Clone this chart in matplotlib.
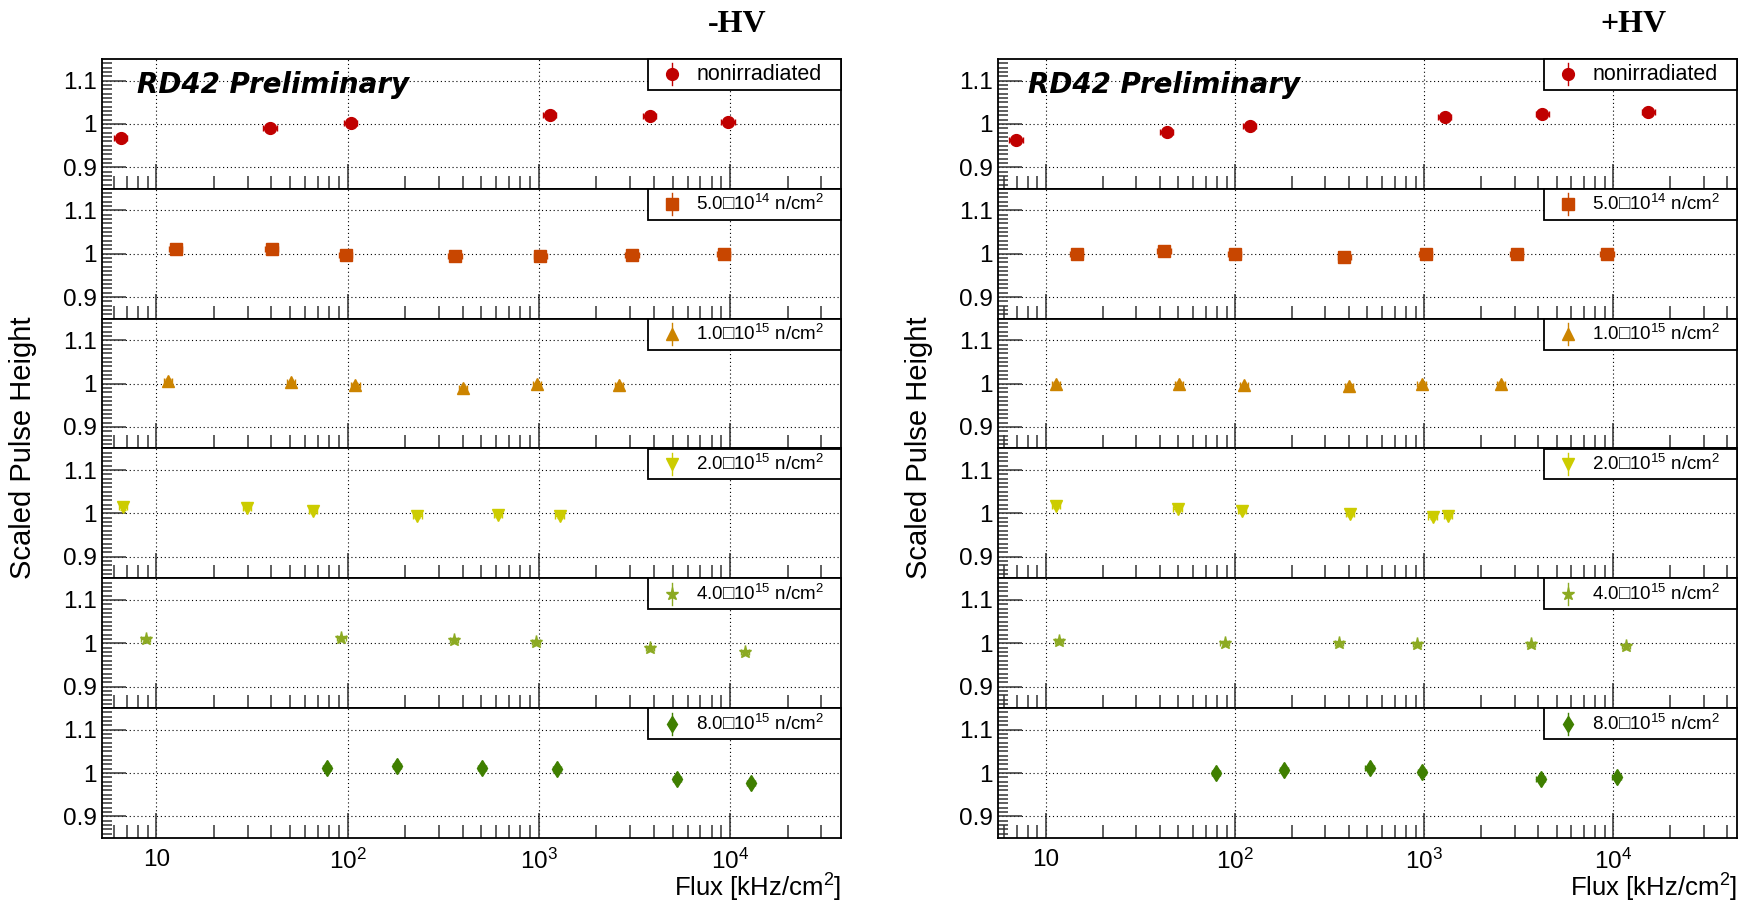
import numpy as np
import matplotlib
matplotlib.use('Agg')
import matplotlib.pyplot as plt
from matplotlib.patches import Rectangle
from matplotlib.ticker import FixedLocator, FixedFormatter

plt.rcParams['font.family'] = ['Liberation Sans', 'DejaVu Sans']
plt.rcParams['mathtext.fontset'] = 'custom'
plt.rcParams['mathtext.rm'] = 'Liberation Sans'
plt.rcParams['mathtext.it'] = 'Liberation Sans:italic'
plt.rcParams['mathtext.bf'] = 'Liberation Sans:bold'

# ---------------- data ----------------
series_labels = ['nonirradiated',
                 '5.0\u25a110$^{14}$ n/cm$^{2}$',
                 '1.0\u25a110$^{15}$ n/cm$^{2}$',
                 '2.0\u25a110$^{15}$ n/cm$^{2}$',
                 '4.0\u25a110$^{15}$ n/cm$^{2}$',
                 '8.0\u25a110$^{15}$ n/cm$^{2}$']
side_titles = ['-HV', '+HV']
xtick_values = [10, 100, 1000, 10000]
xtick_labels = ['10', '$10^{2}$', '$10^{3}$', '$10^{4}$']
ytick_values = [0.9, 1.0, 1.1]
ytick_labels = ['0.9', '1', '1.1']

# -HV
neg_flux_nonirr = [6.5, 39.5, 104, 1143, 3810, 9770]
neg_ph_nonirr = [0.968, 0.990, 1.002, 1.021, 1.018, 1.005]
neg_flux_5e14 = [12.6, 40.3, 98, 366, 1020, 3075, 9290]
neg_ph_5e14 = [1.010, 1.010, 0.998, 0.994, 0.995, 0.996, 1.000]
neg_flux_1e15 = [11.5, 50.6, 110, 403, 980, 2620]
neg_ph_1e15 = [1.006, 1.003, 0.997, 0.990, 0.998, 0.997]
neg_flux_2e15 = [6.7, 29.9, 66, 232, 611, 1283]
neg_ph_2e15 = [1.014, 1.013, 1.006, 0.995, 0.997, 0.995]
neg_flux_4e15 = [8.8, 92.9, 362, 966, 3820, 12000]
neg_ph_4e15 = [1.010, 1.011, 1.008, 1.004, 0.990, 0.979]
neg_flux_8e15 = [78, 181, 507, 1248, 5280, 12900]
neg_ph_8e15 = [1.011, 1.016, 1.011, 1.010, 0.987, 0.977]

# +HV
pos_flux_nonirr = [6.95, 43.6, 120, 1288, 4210, 15300]
pos_ph_nonirr = [0.962, 0.982, 0.996, 1.016, 1.022, 1.027]
pos_flux_5e14 = [14.6, 42.2, 99.5, 378, 1021, 3076, 9270]
pos_ph_5e14 = [1.000, 1.006, 0.999, 0.993, 1.000, 1.000, 1.000]
pos_flux_1e15 = [11.3, 50.5, 111, 399, 967, 2540]
pos_ph_1e15 = [1.000, 0.999, 0.996, 0.995, 0.999, 0.999]
pos_flux_2e15 = [11.3, 49.6, 109, 404, 1107, 1340]
pos_ph_2e15 = [1.018, 1.010, 1.005, 0.998, 0.991, 0.995]
pos_flux_4e15 = [11.7, 88, 353, 914, 3665, 11670]
pos_ph_4e15 = [1.006, 1.001, 1.000, 0.998, 0.998, 0.993]
pos_flux_8e15 = [79, 182, 514, 974, 4120, 10400]
pos_ph_8e15 = [1.001, 1.006, 1.011, 1.003, 0.986, 0.991]

# uncertainties (pulse height absolute, flux relative)
ph_err = [0.008, 0.004, 0.004, 0.005, 0.004, 0.005]
flux_rel_err = [0.08, 0.08, 0.05, 0.05, 0.05, 0.05]

neg_data = [(neg_flux_nonirr, neg_ph_nonirr), (neg_flux_5e14, neg_ph_5e14),
            (neg_flux_1e15, neg_ph_1e15), (neg_flux_2e15, neg_ph_2e15),
            (neg_flux_4e15, neg_ph_4e15), (neg_flux_8e15, neg_ph_8e15)]
pos_data = [(pos_flux_nonirr, pos_ph_nonirr), (pos_flux_5e14, pos_ph_5e14),
            (pos_flux_1e15, pos_ph_1e15), (pos_flux_2e15, pos_ph_2e15),
            (pos_flux_4e15, pos_ph_4e15), (pos_flux_8e15, pos_ph_8e15)]

# ---------------- style ----------------
colors = ['#C00000', '#C84600', '#CC8400', '#CCCC00', '#8CAA22', '#3F7F00']
markers = ['o', 's', '^', 'v', '*', 'd']
msizes = [8.5, 8.5, 8.5, 9, 9.5, 8]
legend_fs = [15.5, 13.5, 13.5, 13.5, 13.5, 13.5]

W, H = 1752, 905
fig = plt.figure(figsize=(W / 100, H / 100), dpi=100)
fig.patch.set_facecolor('white')

x_extents = [(102, 841), (998, 1737)]
xlims = [(5.2, 3.8e4), (5.57, 4.5e4)]
top_px, bot_px = 59, 838
nrow = 6
row_h = (bot_px - top_px) / nrow
rd42_x = [0.047, 0.041]

minor_y = [v for v in np.round(np.arange(0.86, 1.145, 0.01), 3)
           if min(abs(v - m) for m in ytick_values) > 1e-6]
minor_x = [m * 10 ** e for e in range(0, 5) for m in range(2, 10)]

for side, data in enumerate([neg_data, pos_data]):
    x0, x1 = x_extents[side]
    for i in range(nrow):
        y_top = top_px + i * row_h
        ax = fig.add_axes([x0 / W, 1 - (y_top + row_h) / H, (x1 - x0) / W, row_h / H])
        ax.set_xscale('log')
        ax.set_xlim(*xlims[side])
        ax.set_ylim(0.85, 1.15)
        for sp in ax.spines.values():
            sp.set_linewidth(1.3)
            sp.set_color('black')
        ax.xaxis.set_major_locator(FixedLocator(xtick_values))
        ax.xaxis.set_major_formatter(FixedFormatter(xtick_labels))
        ax.xaxis.set_minor_locator(FixedLocator(minor_x))
        ax.yaxis.set_major_locator(FixedLocator(ytick_values))
        ax.yaxis.set_major_formatter(FixedFormatter(ytick_labels))
        ax.yaxis.set_minor_locator(FixedLocator(minor_y))
        ax.tick_params(which='both', direction='in', top=False, right=False,
                       color='#333333', width=1.1, labelsize=17.5)
        ax.tick_params(axis='x', which='major', length=18, pad=8)
        ax.tick_params(axis='x', which='minor', length=9.5)
        ax.tick_params(axis='y', which='major', length=17, pad=4)
        ax.tick_params(axis='y', which='minor', length=7)
        ax.tick_params(axis='x', labelbottom=(i == nrow - 1))
        ax.grid(True, which='major', color='black', linestyle=(0, (1, 2.5)), linewidth=0.8)

        fx, ph = data[i]
        fx = np.asarray(fx, float)
        ph = np.asarray(ph, float)
        ax.errorbar(fx, ph, yerr=ph_err[i], xerr=fx * flux_rel_err[i],
                    fmt=markers[i], color=colors[i], ms=msizes[i], mec=colors[i],
                    ecolor=colors[i], elinewidth=1.0, capsize=2, zorder=4)

        # legend box (ROOT style)
        lx, lw_, lh = 0.739, 0.261, 0.238
        ax.add_patch(Rectangle((lx, 1 - lh), lw_, lh, transform=ax.transAxes,
                               facecolor='white', edgecolor='black', linewidth=1.3,
                               zorder=6, clip_on=False))
        ly = 1 - lh / 2
        ax.plot([0.771, 0.771], [ly - 0.085, ly + 0.085], transform=ax.transAxes,
                color=colors[i], lw=1.0, zorder=7, clip_on=False)
        ax.plot([0.771], [ly], transform=ax.transAxes, marker=markers[i],
                color=colors[i], ms=msizes[i], ls='none', zorder=7, clip_on=False)
        ax.text(0.804, ly, series_labels[i], transform=ax.transAxes, fontsize=legend_fs[i],
                va='center', ha='left', zorder=8)

        if i == 0:
            ax.text(rd42_x[side], 0.80, 'RD42 Preliminary', transform=ax.transAxes,
                    fontsize=20, fontweight='bold', style='italic',
                    family=['DejaVu Sans'], va='center', ha='left', zorder=8)

    # side titles & axis labels
    fig.text((x1 - 104) / W, 1 - 25 / H, side_titles[side], family=['Liberation Serif'],
             fontweight='bold', fontsize=23, ha='center', va='center')
    fig.text((x0 - 78.5) / W, 1 - 448 / H, 'Scaled Pulse Height', rotation=90,
             fontsize=21, ha='center', va='center')
    fig.text(x1 / W, 1 - 888 / H, 'Flux [kHz/cm$^{2}$]', fontsize=18.5,
             ha='right', va='center')

fig.savefig('out.png', dpi=100, facecolor='white')
